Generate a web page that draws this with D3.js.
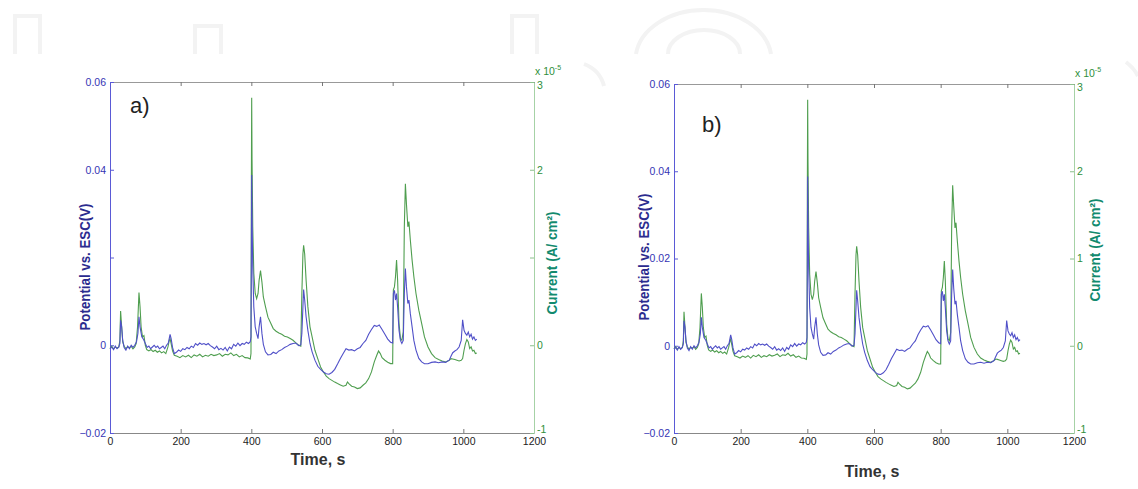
<!DOCTYPE html>
<html>
<head>
<meta charset="utf-8">
<script src="https://cdn.jsdelivr.net/npm/d3@7"></script>
<style>
  body { margin: 0; background: #fff; }
  text { font-family: "Liberation Sans", Arial, sans-serif; }
</style>
</head>
<body>
<script>
var width = 1138,
    height = 489;

// time axis (s) for the potential trace
var timeP = [0,5,10,15,20,25,28,30,33,36,40,45,50,55,60,65,70,75,79,82,85,90,95,100,105,110,115,120,125,130,135,140,145,150,155,160,165,170,173,177,182,188,194,200,206,212,218,224,230,236,242,248,254,260,266,272,278,284,290,296,302,308,314,320,326,332,338,344,350,356,362,368,374,380,386,392,397,399,400,401,402,404,407,411,415,419,422,426,430,434,440,447,455,462,470,478,486,494,502,510,518,526,534,540,543,546,548,551,555,560,566,572,580,588,596,604,612,620,628,636,644,652,660,668,676,684,692,700,708,716,724,732,740,748,755,762,770,778,786,794,800,802,805,808,811,814,818,822,826,830,833,836,839,843,846,850,855,860,866,874,882,890,900,910,920,930,940,950,960,965,970,976,982,988,994,998,1002,1006,1010,1014,1018,1022,1026,1030,1034,1038];

// potential vs ESC (V)
var potential = [-0.0008,-0.0004,-0.0010,-0.0002,-0.0008,-0.0004,0.0004,0.0057,0.0042,0.0011,-0.0005,-0.0011,-0.0002,-0.0008,0,-0.0005,0,0.0008,0.0027,0.0065,0.0042,0.0019,0.0013,0.0004,-0.0005,-0.0002,-0.0008,-0.0004,0,-0.0005,-0.0002,-0.0008,-0.0005,-0.0002,-0.0008,0,0.0005,0.0025,0.0015,-0.0005,-0.0019,-0.0016,-0.0011,-0.0014,-0.0008,-0.0010,-0.0005,-0.0008,-0.0002,-0.0005,0.0004,0,0.0005,0.0002,0.0004,0.0001,0.0004,-0.0001,-0.0004,-0.0008,-0.0002,-0.0010,-0.0007,-0.0011,-0.0005,-0.0013,-0.0004,-0.0008,0.0002,-0.0002,0.0005,-0.0001,0.0004,0.0002,0.0007,0.0004,0.0008,0.0019,0.0179,0.0388,0.0293,0.0179,0.0087,0.0042,0.0027,0.0015,0.0042,0.0065,0.0027,0.0002,-0.0015,-0.0022,-0.0021,-0.0016,-0.0019,-0.0013,-0.0010,-0.0005,-0.0002,0.0002,0.0004,0.0005,-0.0001,0.0001,0.0027,0.0087,0.0127,0.0103,0.0065,0.0034,0.0004,-0.0015,-0.0034,-0.0048,-0.0055,-0.0061,-0.0065,-0.0066,-0.0062,-0.0055,-0.0043,-0.0030,-0.0019,-0.0008,-0.0011,-0.0010,-0.0013,-0.0008,-0.0005,0.0004,0.0011,0.0025,0.0036,0.0045,0.0043,0.0046,0.0036,0.0025,0.0014,0.0007,0.0005,0.0118,0.0125,0.0103,0.0118,0.0087,0.0034,0.0011,0.0004,0.0011,0.0118,0.0175,0.0133,0.0095,0.0103,0.0072,0.0042,0.0011,-0.0011,-0.0030,-0.0038,-0.0042,-0.0042,-0.0039,-0.0038,-0.0040,-0.0038,-0.0039,-0.0034,-0.0025,-0.0017,-0.0013,-0.0010,-0.0004,0.0011,0.0058,0.0034,0.0027,0.0023,0.0030,0.0019,0.0025,0.0014,0.0019,0.0011,0.0014];

// time axis (s) for the current trace
var timeI = [0,5,10,15,20,25,28,30,33,36,40,45,50,55,60,65,70,74,78,82,85,88,92,96,100,104,110,116,122,128,134,140,146,152,158,164,168,170,173,177,182,190,198,206,214,222,230,238,246,254,262,270,278,286,294,302,310,318,326,334,342,350,358,366,374,382,390,397,399,400,401,402,404,407,411,415,419,422,426,430,434,440,447,455,462,470,478,486,494,502,510,518,526,534,540,543,546,548,551,555,560,566,572,580,588,596,604,612,620,628,636,644,652,660,668,672,676,684,692,700,708,716,724,732,740,748,755,760,765,770,778,786,794,800,802,805,808,811,814,818,822,826,830,833,836,839,843,846,850,855,860,866,874,882,890,900,910,920,930,940,950,960,965,970,976,982,988,994,998,1002,1006,1010,1014,1018,1022,1026,1030,1034,1038];

// current (x 1e-5 A/cm2)
var current = [-0.038,-0.011,-0.042,-0.019,-0.034,-0.019,0.057,0.39,0.21,0.038,-0.011,-0.038,-0.019,-0.027,-0.011,-0.042,-0.019,0.019,0.21,0.60,0.44,0.21,0.095,0.11,0,-0.049,-0.065,-0.049,-0.072,-0.057,-0.080,-0.065,-0.087,-0.072,-0.095,-0.019,0.057,0.076,0.019,-0.065,-0.114,-0.125,-0.141,-0.118,-0.133,-0.114,-0.141,-0.110,-0.125,-0.103,-0.133,-0.114,-0.125,-0.103,-0.118,-0.110,-0.095,-0.125,-0.103,-0.110,-0.087,-0.118,-0.103,-0.133,-0.118,-0.141,-0.144,-0.156,-0.095,1.73,2.82,2.11,1.35,0.82,0.59,0.53,0.59,0.74,0.85,0.72,0.55,0.44,0.32,0.25,0.19,0.16,0.14,0.125,0.103,0.095,0.076,0.057,0.027,0,-0.011,0.59,1.04,1.14,1.04,0.74,0.44,0.21,0.095,-0.057,-0.152,-0.247,-0.304,-0.353,-0.38,-0.40,-0.42,-0.437,-0.452,-0.467,-0.456,-0.418,-0.437,-0.467,-0.475,-0.494,-0.486,-0.456,-0.429,-0.38,-0.304,-0.19,-0.114,-0.065,-0.095,-0.141,-0.171,-0.194,-0.209,-0.209,0.63,0.665,0.78,0.97,0.74,0.25,0.076,0.057,0.152,1.35,1.84,1.61,1.35,1.41,1.20,0.97,0.78,0.59,0.40,0.25,0.095,-0.019,-0.095,-0.141,-0.163,-0.179,-0.19,-0.171,-0.152,-0.156,-0.163,-0.171,-0.179,-0.171,-0.152,-0.057,0.019,0.065,0.038,-0.038,-0.019,-0.065,-0.057,-0.095,-0.087];

var timeTicks = [0, 200, 400, 600, 800, 1000, 1200],
    potentialTicks = [-0.02, 0, 0.02, 0.04, 0.06],
    currentTicks = [-1, 0, 1, 2, 3];

var panels = [
  { x0: 110, x1: 534, y0: 82, y1: 433, tag: "a)", tagX: 130, tagY: 113, hideMid: true,
    timeX: 318, timeY: 465, leftX: 85, leftY: 267, rightX: 552, rightY: 263 },
  { x0: 674, x1: 1074, y0: 84, y1: 433, tag: "b)", tagX: 702, tagY: 132, hideMid: false,
    timeX: 872, timeY: 477, leftX: 644, leftY: 257, rightX: 1095, rightY: 250 }
];

var svg = d3.select("body").append("svg")
    .attr("width", width)
    .attr("height", height);

// faint watermark shapes behind the figure
var wm = svg.append("g")
    .attr("fill", "none")
    .attr("stroke", "#f3f3f3")
    .attr("stroke-width", 4);
[[15, 40, 16], [195, 221, 26], [512, 537, 16]].forEach(function(r) {
  wm.append("path").attr("d", "M" + [r[0], 54] + "V" + r[2] + "H" + r[1] + "V54");
});
wm.append("path").attr("d", "M636,54 A68,50 0 0 1 771,54");
wm.append("path").attr("d", "M668,54 A36,24 0 0 1 740,54");
wm.append("path").attr("d", "M584,64 Q600,70 604,86");
wm.append("path").attr("d", "M1126,62 Q1134,68 1138,76");

panels.forEach(function(p) {
  var x = d3.scaleLinear().domain([0, 1200]).range([p.x0, p.x1]),
      yP = d3.scaleLinear().domain([-0.02, 0.06]).range([p.y1, p.y0]),
      yI = d3.scaleLinear().domain([-1, 3]).range([p.y1, p.y0]);

  var g = svg.append("g");

  // top frame
  var top = g.append("g")
      .attr("transform", "translate(0," + p.y0 + ")")
      .call(d3.axisTop(x).tickValues(timeTicks).tickSize(-4).tickSizeOuter(0).tickFormat(""));
  top.select(".domain").attr("stroke", "#999");
  top.selectAll(".tick line").attr("stroke", "#777");

  // bottom axis
  var bottom = g.append("g")
      .attr("transform", "translate(0," + p.y1 + ")")
      .call(d3.axisBottom(x).tickValues(timeTicks).tickSize(-4).tickSizeOuter(0).tickPadding(5)
        .tickFormat(d3.format("d")));
  bottom.select(".domain").attr("stroke", "#888");
  bottom.selectAll(".tick line").attr("stroke", "#777");
  bottom.selectAll("text").attr("fill", "#222").style("font-size", "10.5px");

  // left axis (potential)
  var left = g.append("g")
      .attr("transform", "translate(" + p.x0 + ",0)")
      .call(d3.axisLeft(yP).tickValues(potentialTicks).tickSize(-4).tickSizeOuter(0).tickPadding(4)
        .tickFormat(function(d) {
          if (p.hideMid && d === 0.02) return "";
          return d === 0 ? "0" : d3.format(".2f")(d);
        }));
  left.select(".domain").attr("stroke", "#5a5ad6");
  left.selectAll(".tick line").attr("stroke", "#5a5ad6");
  left.selectAll("text").attr("fill", "#3434b4").style("font-size", "10.5px");

  // right axis (current)
  var right = g.append("g")
      .attr("transform", "translate(" + p.x1 + ",0)")
      .call(d3.axisRight(yI).tickValues(currentTicks).tickSize(-4).tickSizeOuter(0).tickPadding(3)
        .tickFormat(function(d) { return (p.hideMid && d === 1) ? "" : d; }));
  right.select(".domain").attr("stroke", "#a6d2a6");
  right.selectAll(".tick line").attr("stroke", "#8cc08c");
  right.selectAll("text").attr("fill", "#2f8f3a").style("font-size", "10.5px")
      .attr("dy", function(d) { return d === 3 ? "0.6em" : d === -1 ? "-0.05em" : "0.32em"; });

  // exponent label
  var ex = g.append("text")
      .attr("x", p.x1 + 1)
      .attr("y", p.y0 - 7)
      .attr("fill", "#2f8f3a")
      .style("font-size", "10.5px")
      .text("x 10");
  ex.append("tspan").attr("dy", -5).style("font-size", "7px").text("-5");

  // traces
  var lineP = d3.line().x(function(d) { return x(d[0]); }).y(function(d) { return yP(d[1]); });
  var lineI = d3.line().x(function(d) { return x(d[0]); }).y(function(d) { return yI(d[1]); });

  g.append("path")
      .datum(d3.zip(timeI, current))
      .attr("fill", "none")
      .attr("stroke", "#4f9e4f")
      .attr("stroke-width", 1.1)
      .attr("d", lineI);

  g.append("path")
      .datum(d3.zip(timeP, potential))
      .attr("fill", "none")
      .attr("stroke", "#5050c8")
      .attr("stroke-width", 1.1)
      .attr("d", lineP);

  // panel tag
  g.append("text")
      .attr("x", p.tagX)
      .attr("y", p.tagY)
      .attr("fill", "#222")
      .style("font-size", "22px")
      .text(p.tag);

  // axis titles
  g.append("text")
      .attr("x", p.timeX)
      .attr("y", p.timeY)
      .attr("text-anchor", "middle")
      .attr("fill", "#333")
      .style("font-size", "16px")
      .style("font-weight", "bold")
      .text("Time, s");

  g.append("text")
      .attr("transform", "translate(" + p.leftX + "," + p.leftY + ") rotate(-90)")
      .attr("text-anchor", "middle")
      .attr("dy", "0.35em")
      .attr("fill", "#2b2b8e")
      .style("font-size", "15px")
      .style("font-weight", "bold")
      .attr("textLength", 127)
      .attr("lengthAdjust", "spacingAndGlyphs")
      .text("Potential vs. ESC(V)");

  g.append("text")
      .attr("transform", "translate(" + p.rightX + "," + p.rightY + ") rotate(-90)")
      .attr("text-anchor", "middle")
      .attr("dy", "0.35em")
      .attr("fill", "#128a6e")
      .style("font-size", "15px")
      .style("font-weight", "bold")
      .attr("textLength", 103)
      .attr("lengthAdjust", "spacingAndGlyphs")
      .text("Current (A/ cm²)");
});
</script>
</body>
</html>
